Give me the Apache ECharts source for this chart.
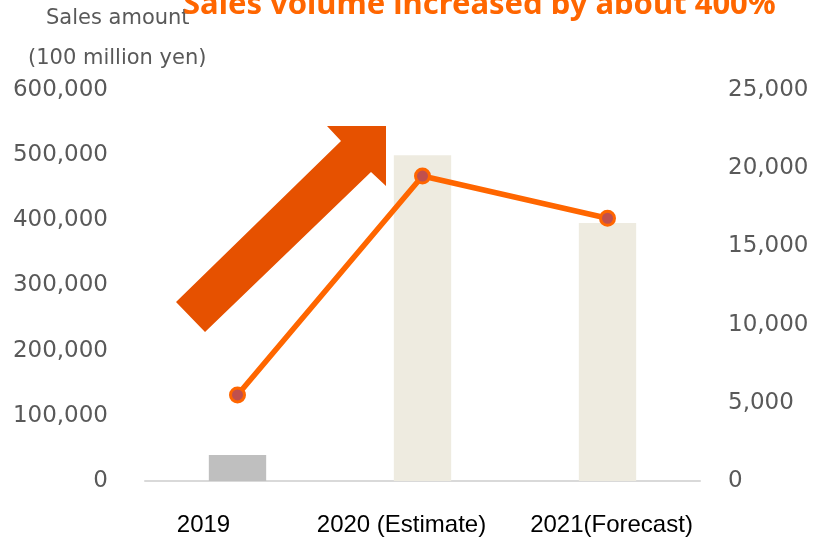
<!DOCTYPE html>
<html>
<head>
<meta charset="utf-8">
<script src="https://cdn.jsdelivr.net/npm/echarts@6/dist/echarts.min.js"></script>
<style>
  html, body { margin: 0; padding: 0; background: #fff; }
  #chart { width: 814px; height: 537px; }
</style>
</head>
<body>
<div id="chart"></div>
<script>
// Categories and values
const categories = ['2019', '2020 (Estimate)', '2021(Forecast)'];
const salesAmount = [40000, 500000, 396000];      // left axis, bars
const salesVolume = [5500, 19500, 16800];          // right axis, line
const leftTicks = { min: 0, max: 600000, interval: 100000 };
const rightTicks = { min: 0, max: 25000, interval: 5000 };
const barColors = ['#BFBFBF', '#EEEBE0', '#EEEBE0'];

// horizontal nudge of each category label (px, negative = left)
const labelNudge = [-34, -21, 4];

const fmt = v => v.toLocaleString('en-US');

const chart = echarts.init(document.getElementById('chart'));
chart.setOption({
  animation: false,
  grid: { left: 145, right: 114, top: 90, bottom: 56 },
  xAxis: {
    type: 'category',
    data: categories.map((c, i) => {
      const n = labelNudge[i];
      return {
        value: c,
        textStyle: { padding: n < 0 ? [0, -2 * n, 0, 0] : [0, 0, 0, 2 * n] }
      };
    }),
    axisLine: { lineStyle: { color: '#D9D9D9', width: 2 } },
    axisTick: { show: false },
    axisLabel: {
      interval: 0,
      margin: 32,
      color: '#000',
      fontFamily: 'Liberation Sans',
      fontSize: 24
    }
  },
  yAxis: [
    {
      type: 'value',
      min: leftTicks.min, max: leftTicks.max, interval: leftTicks.interval,
      axisLine: { show: false },
      axisTick: { show: false },
      splitLine: { show: false },
      axisLabel: {
        margin: 37,
        color: '#595959',
        fontFamily: 'DejaVu Sans',
        fontSize: 23,
        formatter: fmt
      }
    },
    {
      type: 'value',
      min: rightTicks.min, max: rightTicks.max, interval: rightTicks.interval,
      axisLine: { show: false },
      axisTick: { show: false },
      splitLine: { show: false },
      axisLabel: {
        margin: 28,
        color: '#595959',
        fontFamily: 'DejaVu Sans',
        fontSize: 23,
        formatter: fmt
      }
    }
  ],
  series: [
    {
      type: 'bar',
      yAxisIndex: 0,
      barWidth: '31%',
      data: salesAmount.map((v, i) => ({ value: v, itemStyle: { color: barColors[i] } }))
    },
    {
      type: 'line',
      yAxisIndex: 1,
      data: salesVolume,
      lineStyle: { color: '#FF6600', width: 5.5 },
      symbol: 'circle',
      symbolSize: 14,
      itemStyle: { color: '#C0504D', borderColor: '#FF6600', borderWidth: 3 },
      z: 5
    }
  ],
  graphic: [
    {
      type: 'polygon',
      z: 10,
      shape: {
        points: [[386, 126], [327, 126], [341, 141], [176, 302], [205, 332], [371, 172], [386, 186]]
      },
      style: { fill: '#E65100' }
    },
    {
      type: 'text',
      left: 46, top: 8,
      style: {
        text: 'Sales amount',
        fill: '#595959',
        font: '21px "DejaVu Sans"'
      }
    },
    {
      type: 'text',
      left: 28, top: 48,
      style: {
        text: '(100 million yen)',
        fill: '#595959',
        font: '21px "DejaVu Sans"'
      }
    },
    {
      type: 'text',
      left: 183, top: -10,
      z: 20,
      style: {
        text: 'Sales volume increased by about 400%',
        fill: '#FF6600',
        font: 'bold 31px "Noto Sans"'
      }
    }
  ]
});
</script>
</body>
</html>
